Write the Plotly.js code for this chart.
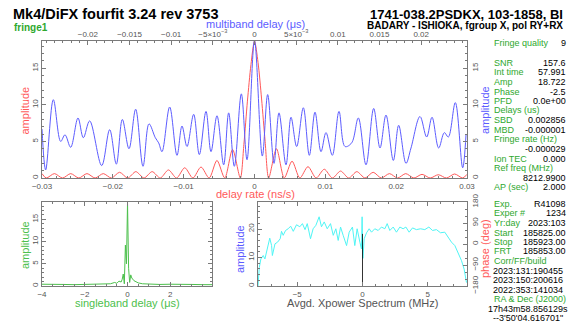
<!DOCTYPE html>
<html><head><meta charset="utf-8">
<script src="https://cdn.plot.ly/plotly-3.0.1.min.js"></script>
<style>html,body{margin:0;padding:0;background:#fff}#chart{width:571px;height:329px}</style>
</head><body><div id="chart"></div>
<script>
// ---------------- data ----------------
// delay-rate spectrum (red), x = delay rate (ns/s)
const rateX = [-0.0300,-0.0294,-0.02825,-0.0271,-0.02595,-0.0248,-0.02365,-0.0225,-0.02135,-0.0202,-0.01905,-0.0179,-0.01675,-0.0156,-0.01445,-0.0133,-0.01215,-0.0110,-0.00985,-0.0087,-0.00755,-0.0064,-0.0053,-0.0042,-0.0031,-0.0020,-0.0015,-0.0010,-0.0005,0,0.0005,0.0010,0.0015,0.0020,0.0031,0.0042,0.0053,0.0064,0.00755,0.0087,0.00985,0.0110,0.01215,0.0133,0.01445,0.0156,0.01675,0.0179,0.01905,0.0202,0.02135,0.0225,0.02365,0.0248,0.02595,0.0271,0.02825,0.0294,0.0300];
const rateAmp = [0.6,0,0.6,0,0.6,0,0.6,0,0.6,0,0.78,0,0.87,0,0.87,0,1.1,0,1.4,0,1.5,0,2.4,0,3.9,0,4.6,10.5,15.5,18.72,15.8,10.8,5.0,0,4.0,0,2.3,0,1.55,0,1.2,0,0.95,0,0.87,0,0.78,0,0.6,0,0.6,0,0.5,0,0.45,0,0.55,0,0.5];
// multiband delay function (blue), x = multiband delay (us)
const mbdX = [-0.0255,-0.02506,-0.02414,-0.02326,-0.02274,-0.02206,-0.02118,-0.02054,-0.01978,-0.01834,-0.01738,-0.01658,-0.01586,-0.01506,-0.01426,-0.01338,-0.01266,-0.01190,-0.01150,-0.01110,-0.01018,-0.00930,-0.00870,-0.00810,-0.00730,-0.00662,-0.00582,-0.00522,-0.00450,-0.00370,-0.00310,-0.00242,-0.00158,-0.00090,0,0.00094,0.00158,0.00234,0.00294,0.00378,0.00438,0.00506,0.00586,0.00658,0.00726,0.00798,0.00858,0.00934,0.01014,0.01086,0.01166,0.01246,0.01338,0.01430,0.01506,0.01578,0.01666,0.01730,0.01818,0.01878,0.01986,0.02066,0.02130,0.02210,0.02278,0.02326,0.02410,0.02498,0.02538];
const mbdAmp = [6.7,1.1,10.7,5.0,5.9,4.2,8.2,5.5,7.8,1.7,6.6,1.9,8.0,4.0,9.4,1.6,7.4,5.5,4.8,3.6,9.7,3.1,7.1,4.3,8.7,3.2,9.1,3.6,8.5,1.8,8.9,1.6,11.5,2.5,18.72,3.0,11.4,2.0,8.9,1.8,8.3,4.3,9.6,3.1,9.0,3.6,6.2,3.1,9.1,4.3,4.8,8.2,1.8,9.5,4.1,8.6,2.4,7.2,2.0,4.1,8.4,5.6,8.3,4.1,6.2,5.6,10.3,1.4,5.9];
// singleband delay function (green), x = singleband delay (us)
const sbdX = [-4,-3.5,-3,-2.5,-2,-1.5,-1,-0.8,-0.6,-0.5,-0.4,-0.3,-0.25,-0.2,-0.15,-0.1,-0.05,0,0.05,0.1,0.15,0.2,0.3,0.4,0.5,0.7,1,1.5,2,2.5,3,3.5,3.95];
const sbdAmp = [0.4,0.3,0.35,0.3,0.35,0.3,0.4,0.5,0.8,0.6,1.1,0.9,1.5,2.7,0.5,9.2,5.0,18.72,4.0,0.8,2.5,1.8,1.2,0.9,0.7,0.5,0.4,0.35,0.4,0.3,0.35,0.3,0.3];
// averaged cross-power spectrum (cyan), x = frequency (MHz)
const xpFreq = [-8.0,-7.9,-7.78,-7.6,-7.47,-7.3,-7.1,-6.96,-6.9,-6.7,-6.5,-6.3,-6.2,-6.07,-5.89,-5.69,-5.5,-5.3,-5.05,-4.8,-4.6,-4.4,-4.23,-3.98,-3.78,-3.57,-3.32,-3.14,-2.93,-2.7,-2.45,-2.24,-2.04,-1.86,-1.68,-1.48,-1.22,-1.02,-0.77,-0.59,-0.41,-0.2,-0.08,-0.03,0.03,0.13,0.31,0.51,0.69,0.94,1.2,1.45,1.71,1.89,2.09,2.35,2.6,2.86,3.11,3.32,3.57,3.83,4.13,4.44,4.77,5.08,5.36,5.66,5.97,6.3,6.56,6.81,7.07,7.32,7.58,7.78,7.96];
const xpAmp = [0,6.5,9.5,10.7,9.5,13,16.8,14.2,10.7,14.8,15.4,16.6,19.2,17.8,19.5,20.1,21,19.2,21.5,20.8,21.9,19.8,21.9,16.6,20.1,21.3,24.3,20.8,22.5,20.1,21.9,17.8,20.1,16,20.7,17.8,14.2,18.9,20.7,14.2,20.1,15.4,13,24.3,9.7,16.6,18.7,20.1,18.9,20.1,19.5,20.7,20.1,21.9,19.5,20.7,18.9,20.7,20.1,20.7,18.9,20.4,19.8,20.1,19.8,20.7,19.5,19.8,18.7,18.9,17.2,15.4,14.2,11.8,8.9,5.9,1.2];
const xpCenterX = [0, 0];
const xpCenterY = [0, 18.3];
// tick labels
const mbdTickVals = [-0.02,-0.015,-0.01,-0.005,0,0.005,0.01,0.015,0.02];
const mbdTickText = ['\u22120.02','\u22120.015','\u22120.01','\u22125\u00d710<sup>\u22123</sup>','0','5\u00d710<sup>\u22123</sup>','0.01','0.015','0.02'];
// text panel
const infoLabels = ['Fringe quality','SNR','Int time','Amp','Phase','PFD','Delays (us)','SBD','MBD','Fringe rate (Hz)','','Ion TEC','Ref freq (MHz)','','AP (sec)','Exp.','Exper #','Yr:day','Start','Stop','FRT','Corr/FF/build','','','','RA & Dec (J2000)','',''];
const infoValues = ['9','157.6','57.991','18.722','-2.5','0.0e+00','','0.002856','-0.000001','','-0.000029','0.000','','8212.9900','2.000','R41098','1234','2023:103','185825.00','185923.00','185853.00','','','','','','',''];
const infoCentered = ['','','','','','','','','','','','','','','','','','','','','','','2023:131:190455','2023:150:200616','2022:353:141034','','17h43m58.856129s','--3\'50\'04.616701"'];

// ---------------- layout helpers ----------------
const W = 571, H = 329;
const fx = p => p / W, fy = p => 1 - p / H;
const FONT = 'Liberation Sans, Arial, Helvetica, sans-serif';
const C = {red:'#ff5959', blue:'#5c5cff', green:'#4cc04c', txtGreen:'#2ea82e', cyan:'#4ff5f5', axis:'#7a7a7a', tick:'#555555'};
const infoY = [42.7,62.7,72.3,82,91.5,101,110.5,120,129.7,139.3,149,158.7,168,177.7,187.3,203.7,213.3,223,232.7,242,251.3,261,270.7,280,289.7,299.3,308.7,318.3];

function ax(extra){
  return Object.assign({showline:true, linecolor:C.axis, linewidth:1, ticks:'inside', ticklen:4, tickwidth:1,
    tickcolor:C.axis, tickfont:{family:FONT,size:8,color:C.tick}, showgrid:false, zeroline:false, fixedrange:true}, extra);
}
function minor(d){ return {ticks:'inside', ticklen:2, tickcolor:C.axis, tickmode:'linear', tick0:0, dtick:d}; }

const traces = [
  {type:'scatter', mode:'lines', x:rateX, y:rateAmp, xaxis:'x', yaxis:'y', line:{color:C.red, width:1, shape:'spline', smoothing:0.8}, hoverinfo:'skip'},
  {type:'scatter', mode:'lines', x:mbdX, y:mbdAmp, xaxis:'x2', yaxis:'y2', line:{color:C.blue, width:1, shape:'spline', smoothing:1}, hoverinfo:'skip'},
  {type:'scatter', mode:'lines', x:sbdX, y:sbdAmp, xaxis:'x3', yaxis:'y3', line:{color:C.green, width:1}, hoverinfo:'skip'},
  {type:'scatter', mode:'lines', x:xpFreq, y:xpAmp, xaxis:'x4', yaxis:'y4', line:{color:C.cyan, width:1}, hoverinfo:'skip'},
  {type:'scatter', mode:'lines', x:xpCenterX, y:xpCenterY, xaxis:'x4', yaxis:'y4', line:{color:'#000', width:0.8}, hoverinfo:'skip'},
  {type:'scatter', mode:'lines', x:[null], y:[null], xaxis:'x4', yaxis:'y5', hoverinfo:'skip'}
];

const annotations = [];
function note(x, y, text, anchor, size, color, angle){
  annotations.push({xref:'paper', yref:'paper', x:fx(x), y:fy(y), xanchor:anchor, yanchor:'middle', text:text,
    showarrow:false, borderpad:0, textangle:angle || 0, font:{family:FONT, size:size, color:color}});
}
// header
note(13, 27, '<b>fringe1</b>', 'left', 10, C.txtGreen);
note(564, 14.3, '<b>1741-038.2PSDKX, 103-1858, BI</b>', 'right', 13, '#000');
note(564, 26, '<b>BADARY - ISHIOKA, fgroup X, pol RY+RX</b>', 'right', 10, '#000');
// axis titles
note(255, 24, 'multiband delay (\u03bcs)', 'center', 11, C.blue);
note(255, 194, 'delay rate (ns/s)', 'center', 11, C.red);
note(25, 110.5, 'amplitude', 'center', 11, C.red, -90);
note(485, 110, 'amplitude', 'center', 11, C.blue, -90);
note(25, 245, 'amplitude', 'center', 11, C.green, -90);
note(127, 303, 'singleband delay (\u03bcs)', 'center', 11, C.green);
note(240, 249, 'amplitude', 'center', 11, C.blue, -90);
note(485, 249, 'phase (deg)', 'center', 11, C.red, -90);
note(362, 303, 'Avgd. Xpower Spectrum (MHz)', 'center', 11, '#555');
// info panel
for (let i = 0; i < infoY.length; i++) {
  if (infoLabels[i]) note(493, infoY[i], infoLabels[i], 'left', 9, C.txtGreen);
  if (infoValues[i]) note(567, infoY[i], infoValues[i], 'right', 9, '#000');
  if (infoCentered[i]) note(528, infoY[i], infoCentered[i], 'center', 9, '#000');
}

const layout = {
  width:W, height:H, margin:{l:0,r:0,t:0,b:0}, paper_bgcolor:'#fff', plot_bgcolor:'#fff', showlegend:false,
  title:{text:'<b>Mk4/DiFX fourfit 3.24 rev 3753</b>', x:fx(13), xanchor:'left', xref:'paper', y:fy(14), yref:'container', yanchor:'middle', font:{family:FONT,size:14.5,color:'#000'}},
  xaxis: ax({domain:[fx(42),fx(467)], anchor:'y', range:[-0.03,0.03], tickmode:'linear', tick0:0, dtick:0.01, mirror:true, minor:minor(0.002)}),
  xaxis2: ax({overlaying:'x', side:'top', anchor:'y', range:[-0.0255,0.0255], tickmode:'array', tickvals:mbdTickVals, ticktext:mbdTickText, minor:minor(0.001)}),
  yaxis: ax({domain:[fy(178),fy(41)], anchor:'x', range:[0,18.722], tickmode:'linear', tick0:0, dtick:5, tickangle:-90, mirror:true, minor:minor(1)}),
  yaxis2: ax({overlaying:'y', side:'right', anchor:'x', range:[0,18.722], tickmode:'linear', tick0:0, dtick:5, tickangle:-90, minor:minor(1)}),
  xaxis3: ax({domain:[fx(42),fx(212)], anchor:'y3', range:[-4,3.95], tickmode:'linear', tick0:0, dtick:2, mirror:'ticks', minor:minor(0.5)}),
  yaxis3: ax({domain:[fy(286),fy(202)], anchor:'x3', range:[0,18.9], tickmode:'linear', tick0:0, dtick:5, tickangle:-90, mirror:'ticks', minor:minor(1), zeroline:true, zerolinecolor:C.green, zerolinewidth:3}),
  xaxis4: ax({domain:[fx(258),fx(467)], anchor:'y4', range:[-8,8], tickmode:'linear', tick0:0, dtick:5, mirror:'ticks', minor:minor(1)}),
  yaxis4: ax({domain:[fy(286),fy(202)], anchor:'x4', range:[0,29.5], tickmode:'linear', tick0:0, dtick:10, tickangle:-90, mirror:true, minor:minor(2)}),
  yaxis5: ax({overlaying:'y4', side:'right', anchor:'x4', range:[-180,180], tickmode:'linear', tick0:0, dtick:90, tickangle:-90, minor:minor(30)}),
  annotations: annotations
};

Plotly.newPlot('chart', traces, layout, {staticPlot:true, displayModeBar:false});
</script></body></html>
